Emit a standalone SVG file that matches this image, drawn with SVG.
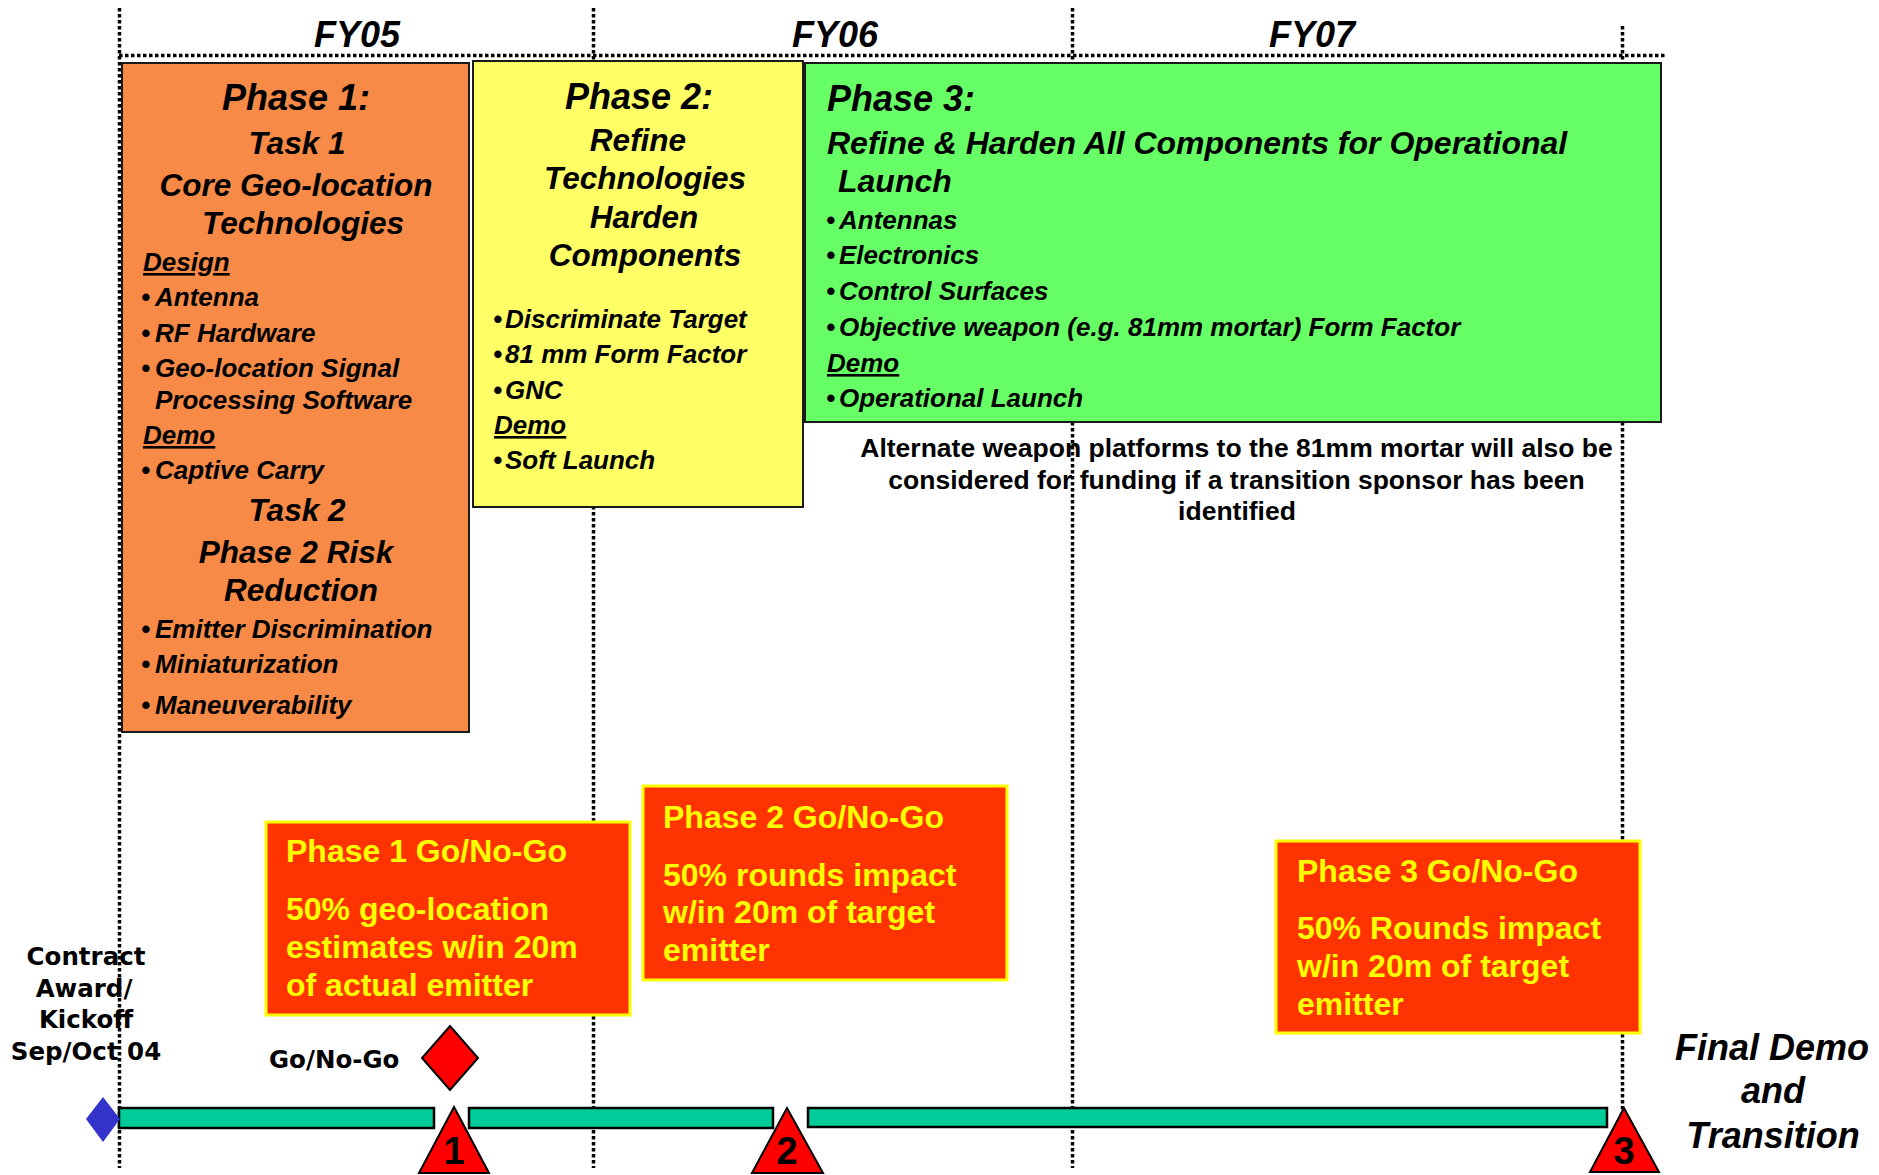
<svg xmlns="http://www.w3.org/2000/svg" width="1879" height="1175" viewBox="0 0 1879 1175">
<style>
.grid{stroke:#000;stroke-width:3.5;stroke-dasharray:3.5 2.5;fill:none}
.hdr{font-family:"Liberation Sans",Arial,sans-serif;font-weight:bold;font-style:italic;font-size:31.5px;fill:#000}
.big{font-family:"Liberation Sans",Arial,sans-serif;font-weight:bold;font-style:italic;font-size:36px;fill:#000}
.body{font-family:"Liberation Sans",Arial,sans-serif;font-weight:bold;font-style:italic;font-size:26px;fill:#000}
.ul{text-decoration:underline}
.note{font-family:"Liberation Sans",Arial,sans-serif;font-weight:bold;font-size:26.5px;fill:#000}
.go{font-family:"Liberation Sans",Arial,sans-serif;font-weight:bold;font-size:32px;fill:#FFFF00}
.gobox{fill:#FF3300;stroke:#FFFF00;stroke-width:3}
.phase{stroke:#1a1a1a;stroke-width:2}
.bar{fill:#00CC99;stroke:#000;stroke-width:2.5}
.tri{fill:#FF0000;stroke:#000;stroke-width:2}
.num{font-family:"Liberation Sans",Arial,sans-serif;font-weight:bold;font-size:38px;fill:#000;text-anchor:middle}
.lbl{font-family:"DejaVu Sans",Verdana,sans-serif;font-weight:bold;font-size:24.5px;fill:#000}
</style>

<g id="gridlines">
  <line class="grid" x1="119.5" y1="8" x2="119.5" y2="1168"/>
  <line class="grid" x1="593.5" y1="8" x2="593.5" y2="1168"/>
  <line class="grid" x1="1072.5" y1="8" x2="1072.5" y2="1168"/>
  <line class="grid" x1="1622.5" y1="26" x2="1622.5" y2="1168"/>
  <line class="grid" x1="119" y1="55.5" x2="1666" y2="55.5"/>
</g>

<g id="fy-labels">
  <text class="big" x="357" y="47" text-anchor="middle">FY05</text>
  <text class="big" x="835" y="47" text-anchor="middle">FY06</text>
  <text class="big" x="1312" y="47" text-anchor="middle">FY07</text>
</g>

<g id="phase1">
  <rect class="phase" x="122" y="63" width="347" height="669" fill="#F68A46"/>
  <text class="big" x="296" y="110" text-anchor="middle">Phase 1:</text>
  <text class="hdr" x="297" y="154" text-anchor="middle">Task 1</text>
  <text class="hdr" x="296" y="196" text-anchor="middle">Core Geo-location</text>
  <text class="hdr" x="303" y="234" text-anchor="middle">Technologies</text>
  <text class="body ul" x="143" y="271">Design</text>
  <text class="body" x="141" y="306">•<tspan x="155">Antenna</tspan></text>
  <text class="body" x="141" y="342">•<tspan x="155">RF Hardware</tspan></text>
  <text class="body" x="141" y="377">•<tspan x="155">Geo-location Signal</tspan></text>
  <text class="body" x="155" y="409">Processing Software</text>
  <text class="body ul" x="143" y="444">Demo</text>
  <text class="body" x="141" y="479">•<tspan x="155">Captive Carry</tspan></text>
  <text class="hdr" x="297" y="521" text-anchor="middle">Task 2</text>
  <text class="hdr" x="296" y="563" text-anchor="middle">Phase 2 Risk</text>
  <text class="hdr" x="301" y="601" text-anchor="middle">Reduction</text>
  <text class="body" x="141" y="638">•<tspan x="155">Emitter Discrimination</tspan></text>
  <text class="body" x="141" y="673">•<tspan x="155">Miniaturization</tspan></text>
  <text class="body" x="141" y="714">•<tspan x="155">Maneuverability</tspan></text>
</g>

<g id="phase2">
  <rect class="phase" x="473" y="61" width="330" height="446" fill="#FFFF66"/>
  <text class="big" x="639" y="109" text-anchor="middle">Phase 2:</text>
  <text class="hdr" x="638" y="151" text-anchor="middle">Refine</text>
  <text class="hdr" x="645" y="189" text-anchor="middle">Technologies</text>
  <text class="hdr" x="644" y="228" text-anchor="middle">Harden</text>
  <text class="hdr" x="645" y="266" text-anchor="middle">Components</text>
  <text class="body" x="493" y="328">•<tspan x="505">Discriminate Target</tspan></text>
  <text class="body" x="493" y="363">•<tspan x="505">81 mm Form Factor</tspan></text>
  <text class="body" x="493" y="399">•<tspan x="505">GNC</tspan></text>
  <text class="body ul" x="494" y="434">Demo</text>
  <text class="body" x="493" y="469">•<tspan x="505">Soft Launch</tspan></text>
</g>

<g id="phase3">
  <rect class="phase" x="805" y="63" width="856" height="359" fill="#66FF66"/>
  <text class="big" x="827" y="111">Phase 3:</text>
  <text class="hdr" x="827" y="154" style="font-size:32px">Refine &amp; Harden All Components for Operational</text>
  <text class="hdr" x="838" y="192" style="font-size:32px">Launch</text>
  <text class="body" x="826" y="229">•<tspan x="839">Antennas</tspan></text>
  <text class="body" x="826" y="264">•<tspan x="839">Electronics</tspan></text>
  <text class="body" x="826" y="300">•<tspan x="839">Control Surfaces</tspan></text>
  <text class="body" x="826" y="336">•<tspan x="839">Objective weapon (e.g. 81mm mortar) Form Factor</tspan></text>
  <text class="body ul" x="827" y="372">Demo</text>
  <text class="body" x="826" y="407">•<tspan x="839">Operational Launch</tspan></text>
</g>

<g id="note">
  <text class="note" x="1236.5" y="457" text-anchor="middle">Alternate weapon platforms to the 81mm mortar will also be</text>
  <text class="note" x="1236.5" y="489" text-anchor="middle">considered for funding if a transition sponsor has been</text>
  <text class="note" x="1237" y="520" text-anchor="middle">identified</text>
</g>

<g id="go1">
  <rect class="gobox" x="266" y="822" width="364" height="193"/>
  <text class="go" x="286" y="862">Phase 1 Go/No-Go</text>
  <text class="go" x="286" y="920">50% geo-location</text>
  <text class="go" x="286" y="958">estimates w/in 20m</text>
  <text class="go" x="286" y="996">of actual emitter</text>
</g>

<g id="go2">
  <rect class="gobox" x="643" y="786" width="364" height="194"/>
  <text class="go" x="663" y="828">Phase 2 Go/No-Go</text>
  <text class="go" x="663" y="886">50% rounds impact</text>
  <text class="go" x="663" y="923">w/in 20m of target</text>
  <text class="go" x="663" y="961">emitter</text>
</g>

<g id="go3">
  <rect class="gobox" x="1276" y="841" width="364" height="192"/>
  <text class="go" x="1297" y="882">Phase 3 Go/No-Go</text>
  <text class="go" x="1297" y="939">50% Rounds impact</text>
  <text class="go" x="1297" y="977">w/in 20m of target</text>
  <text class="go" x="1297" y="1015">emitter</text>
</g>

<g id="timeline">
  <rect class="bar" x="119" y="1108" width="315" height="20"/>
  <rect class="bar" x="469" y="1108" width="304" height="20"/>
  <rect class="bar" x="808" y="1108" width="799" height="19"/>
</g>

<g id="kickoff">
  <polygon points="103,1097 120,1119 103,1142 86,1119" fill="#3333CC"/>
  <text class="lbl" x="86" y="965" text-anchor="middle">Contract</text>
  <text class="lbl" x="84" y="997" text-anchor="middle">Award/</text>
  <text class="lbl" x="86" y="1028" text-anchor="middle">Kickoff</text>
  <text class="lbl" x="86" y="1060" text-anchor="middle">Sep/Oct 04</text>
</g>

<g id="gonogo-marker">
  <polygon class="tri" points="450,1026 478,1058 450,1090 422,1058"/>
  <text class="lbl" x="269" y="1068">Go/No-Go</text>
</g>

<g id="milestone1">
  <polygon class="tri" points="454,1107 419,1173 489,1173"/>
  <text class="num" x="454" y="1164">1</text>
</g>
<g id="milestone2">
  <polygon class="tri" points="787,1108 752,1173 823,1173"/>
  <text class="num" x="787" y="1164">2</text>
</g>
<g id="milestone3">
  <polygon class="tri" points="1624,1108 1590,1172 1659,1172"/>
  <text class="num" x="1624" y="1164">3</text>
</g>

<g id="final">
  <text class="big" x="1772" y="1060" text-anchor="middle">Final Demo</text>
  <text class="big" x="1773" y="1103" text-anchor="middle">and</text>
  <text class="big" x="1773" y="1148" text-anchor="middle">Transition</text>
</g>
</svg>
